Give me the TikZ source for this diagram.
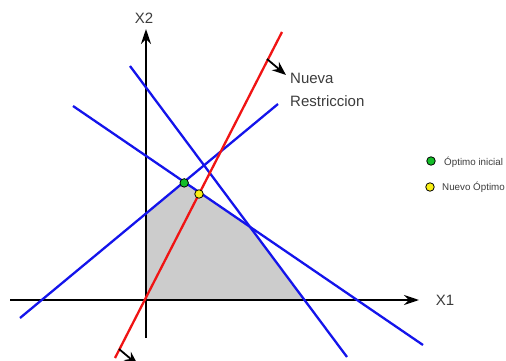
\documentclass[tikz,border=0pt]{standalone}
\usepackage{fontspec}
\setmainfont{Liberation Sans}
\usetikzlibrary{arrows.meta}
\definecolor{lblue}{RGB}{20,20,235}
\definecolor{lred}{RGB}{240,20,20}
\definecolor{txt}{RGB}{60,60,60}
\definecolor{dgreen}{RGB}{20,190,40}
\definecolor{dyellow}{RGB}{250,240,20}
\tikzset{
  axis/.style={line width=2.2pt, black, -{Stealth[length=15pt,width=10pt]}},
  cline/.style={line width=2.3pt, lblue},
  rline/.style={line width=2.3pt, lred},
  dirarrow/.style={line width=1.8pt, black, -{Stealth[length=14pt,width=11pt]}},
  dot/.style={circle, draw=black, line width=0.8pt, inner sep=0pt, minimum size=8.5pt},
  lbl/.style={font=\fontsize{15}{22.5}\selectfont, text=txt, inner sep=0pt},
  leg/.style={font=\fontsize{9.8}{11}\selectfont, text=txt, inner sep=0pt, anchor=west},
}
\begin{document}
\begin{tikzpicture}[x=1pt,y=-1pt]
\useasboundingbox (0,0) rectangle (506,361);
% region
\coordinate (O) at (146,300);
\coordinate (P1) at (146,214);
\coordinate (P2) at (184.2,182.9);
\coordinate (P3) at (249.8,226.8);
\coordinate (P4) at (304.5,300);
\fill[black!20] (O) -- (P1) -- (P2) -- (P3) -- (P4) -- cycle;
% axes
\coordinate (xa) at (10,300);
\coordinate (xb) at (419,300);
\coordinate (ya) at (146,338);
\coordinate (yb) at (146,29);
\draw[axis] (xa) -- (xb);
\draw[axis] (ya) -- (yb);
\node[lbl] (X1) at (445,300) {X1};
\node[lbl] (X2) at (144,18) {X2};
% blue constraint lines
\coordinate (a1) at (20,318);
\coordinate (a2) at (278,104);
\coordinate (b1) at (73,106);
\coordinate (b2) at (423,345);
\coordinate (c1) at (130,66);
\coordinate (c2) at (347,357);
\draw[cline] (a1) -- (a2);
\draw[cline] (b1) -- (b2);
\draw[cline] (c1) -- (c2);
% red new constraint
\coordinate (r1) at (115,358);
\coordinate (r2) at (282,32);
\draw[rline] (r1) -- (r2);
% direction arrows
\coordinate (d1) at (267,59);
\coordinate (d2) at (286,75);
\coordinate (e1) at (119,349);
\coordinate (e2) at (138,365);
\draw[dirarrow] (d1) -- (d2);
\begin{scope}
\clip (0,0) rectangle (506,361);
\draw[dirarrow] (e1) -- (e2);
\end{scope}
\node[lbl, anchor=west, align=left] (nr) at (290,90) {Nueva\\Restriccion};
% optimum points
\node[dot, fill=dgreen] (g) at (P2) {};
\node[dot, fill=dyellow] (y) at (199,194) {};
% legend
\node[dot, fill=dgreen] (lg) at (431,161) {};
\node[leg] (lgt) at (444,162) {Óptimo inicial};
\node[dot, fill=dyellow] (ly) at (430,187) {};
\node[leg] (lyt) at (442,187) {Nuevo Óptimo};
\end{tikzpicture}
\end{document}
